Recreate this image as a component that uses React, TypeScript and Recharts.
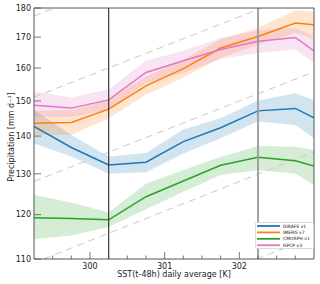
import {
  Area,
  ComposedChart,
  Legend,
  Line,
  ReferenceLine,
  XAxis,
  YAxis,
} from 'recharts';

// bin centres of SST(t-48h) [K]
const sst = [299.25, 299.75, 300.25, 300.75, 301.25, 301.75, 302.25, 302.75, 303.0];

const girafe = [142.7, 136.9, 132.3, 133.0, 138.5, 142.3, 147.1, 147.8, 145.1];
const girafeLo = [138.0, 134.5, 130.0, 130.4, 135.3, 139.4, 144.1, 143.1, 139.4];
const girafeHi = [147.4, 140.3, 134.5, 135.4, 141.8, 145.0, 150.1, 152.3, 150.3];

const imerg = [143.6, 143.8, 147.6, 154.5, 159.8, 166.4, 170.2, 174.8, 174.2];
const imergLo = [140.3, 140.3, 145.0, 151.8, 157.0, 163.2, 167.5, 171.4, 169.4];
const imergHi = [147.1, 147.3, 150.3, 157.3, 162.6, 169.4, 173.1, 179.2, 178.8];

const cmorph = [119.3, 119.1, 118.8, 124.3, 128.2, 132.2, 134.3, 133.4, 132.0];
const cmorphLo = [114.4, 115.2, 117.1, 121.3, 125.5, 129.7, 130.9, 130.1, 127.1];
const cmorphHi = [124.7, 122.9, 120.5, 127.5, 131.0, 134.4, 137.3, 137.1, 136.2];

const gpcp = [148.7, 147.9, 150.3, 158.6, 162.3, 165.9, 168.6, 169.9, 165.5];
const gpcpLo = [145.4, 145.4, 147.4, 155.4, 158.5, 162.9, 164.8, 165.9, 161.6];
const gpcpHi = [152.8, 151.0, 153.5, 162.3, 165.5, 169.7, 172.2, 173.2, 170.1];

// dashed scaling guides: start / end points
const guideStart = [
  [299.25, 177.2],
  [299.25, 151.1],
  [299.25, 128.1],
  [299.38, 110],
  [302.23, 110],
];
const guideEnd = [
  [299.52, 180],
  [302.3, 180],
  [303.0, 158.8],
  [303.0, 135.7],
  [303.0, 114.9],
];

const splitLines = [300.25, 302.25];

const xTicks = [
  299.5, 299.75, 300, 300.25, 300.5, 300.75, 301, 301.25, 301.5, 301.75, 302,
  302.25, 302.5, 302.75,
];
const yTicks = [110, 120, 130, 140, 150, 160, 170, 180];

const SERIES = [
  { key: 'girafe', name: 'GIRAFE v1', color: '#1f77b4' },
  { key: 'imerg', name: 'IMERG v7', color: '#ff7f0e' },
  { key: 'cmorph', name: 'CMORPH v1', color: '#2ca02c' },
  { key: 'gpcp', name: 'GPCP v3', color: '#e377c2' },
];

const data = sst.map((x, i) => ({
  x,
  girafe: girafe[i],
  girafeBand: [girafeLo[i], girafeHi[i]],
  imerg: imerg[i],
  imergBand: [imergLo[i], imergHi[i]],
  cmorph: cmorph[i],
  cmorphBand: [cmorphLo[i], cmorphHi[i]],
  gpcp: gpcp[i],
  gpcpBand: [gpcpLo[i], gpcpHi[i]],
}));

const FONT = '"DejaVu Sans", sans-serif';
const AXIS = '#555';

function XTick(props: any) {
  const { x, y, payload } = props;
  const v = payload.value as number;
  const major = Math.abs(v - Math.round(v)) < 1e-6;
  return (
    <g>
      <line x1={x} x2={x} y1={y} y2={y - (major ? 7 : 3.5)} stroke={AXIS} strokeWidth={0.8} />
      {major && (
        <text x={x} y={y + 10} textAnchor="middle" fontSize={8} fill="#222" fontFamily={FONT}>
          {v}
        </text>
      )}
    </g>
  );
}

function YTick(props: any) {
  const { x, y, payload } = props;
  return (
    <g>
      <line x1={x} x2={x + 7} y1={y} y2={y} stroke={AXIS} strokeWidth={0.8} />
      <text x={x - 3} y={y} dy="0.35em" textAnchor="end" fontSize={8} fill="#222" fontFamily={FONT}>
        {payload.value}
      </text>
    </g>
  );
}

function LegendBox() {
  return (
    <svg width={59} height={27} style={{ display: 'block' }}>
      <rect x={0.5} y={0.5} width={58} height={26} rx={1} fill="white" stroke="#d0d0d0" strokeWidth={0.8} />
      {SERIES.map((s, i) => (
        <g key={s.key}>
          <line x1={2} x2={25} y1={4 + i * 6.4} y2={4 + i * 6.4} stroke={s.color} strokeWidth={1.8} />
          <text x={28} y={4 + i * 6.4} dy="0.35em" fontSize={4.5} fill="#222" fontFamily={FONT}>
            {s.name}
          </text>
        </g>
      ))}
    </svg>
  );
}

export default function App() {
  return (
    <div style={{ position: 'absolute', left: 0, top: 0 }}>
      <ComposedChart
        width={320}
        height={284}
        data={data}
        margin={{ top: 8, right: 6, bottom: 0, left: 0 }}
      >
        <XAxis
          type="number"
          dataKey="x"
          domain={[299.25, 303]}
          allowDataOverflow
          ticks={xTicks}
          interval={0}
          tickSize={0}
          tickMargin={0}
          tickLine={false}
          tick={<XTick />}
          height={25}
          axisLine={{ stroke: AXIS }}
          label={{
            content: () => (
              <text x={174} y={277} textAnchor="middle" fontSize={8} fill="#222" fontFamily={FONT}>
                SST(t-48h) daily average [K]
              </text>
            ),
          }}
        />
        <YAxis
          type="number"
          scale="log"
          domain={[110, 180]}
          allowDataOverflow
          ticks={yTicks}
          interval={0}
          tickSize={0}
          tickMargin={0}
          tickLine={false}
          tick={<YTick />}
          width={34}
          axisLine={{ stroke: AXIS }}
          label={{
            content: () => (
              <text
                x={0}
                y={0}
                transform="translate(11,137) rotate(-90)"
                textAnchor="middle"
                dy="0.35em"
                fontSize={8}
                fill="#222"
                fontFamily={FONT}
              >
                Precipitation [mm d⁻¹]
              </text>
            ),
          }}
        />
        {guideStart.map((p, i) => (
          <Line
            key={'g' + i}
            data={[
              { x: p[0], g: p[1] },
              { x: guideEnd[i][0], g: guideEnd[i][1] },
            ]}
            dataKey="g"
            stroke="#c8c8c8"
            strokeWidth={1}
            strokeDasharray="7 5"
            dot={false}
            legendType="none"
            isAnimationActive={false}
          />
        ))}
        {SERIES.map((s) => (
          <Area
            key={s.key + 'Band'}
            type="linear"
            dataKey={s.key + 'Band'}
            stroke="none"
            fill={s.color}
            fillOpacity={0.2}
            legendType="none"
            isAnimationActive={false}
          />
        ))}
        {SERIES.map((s) => (
          <Line
            key={s.key}
            type="linear"
            dataKey={s.key}
            name={s.name}
            stroke={s.color}
            strokeWidth={1.5}
            dot={false}
            isAnimationActive={false}
          />
        ))}
        <ReferenceLine x={splitLines[0]} stroke="#3a3a3a" strokeWidth={1.2} />
        <ReferenceLine x={splitLines[1]} stroke="#999" strokeWidth={1.8} />
        <ReferenceLine y={180} stroke={AXIS} />
        <ReferenceLine x={303} stroke={AXIS} />
        <Legend
          layout="vertical"
          align="center"
          verticalAlign="middle"
          content={() => <LegendBox />}
          wrapperStyle={{ position: 'absolute', left: 255, top: 222, width: 59, height: 27 }}
        />
      </ComposedChart>
    </div>
  );
}
